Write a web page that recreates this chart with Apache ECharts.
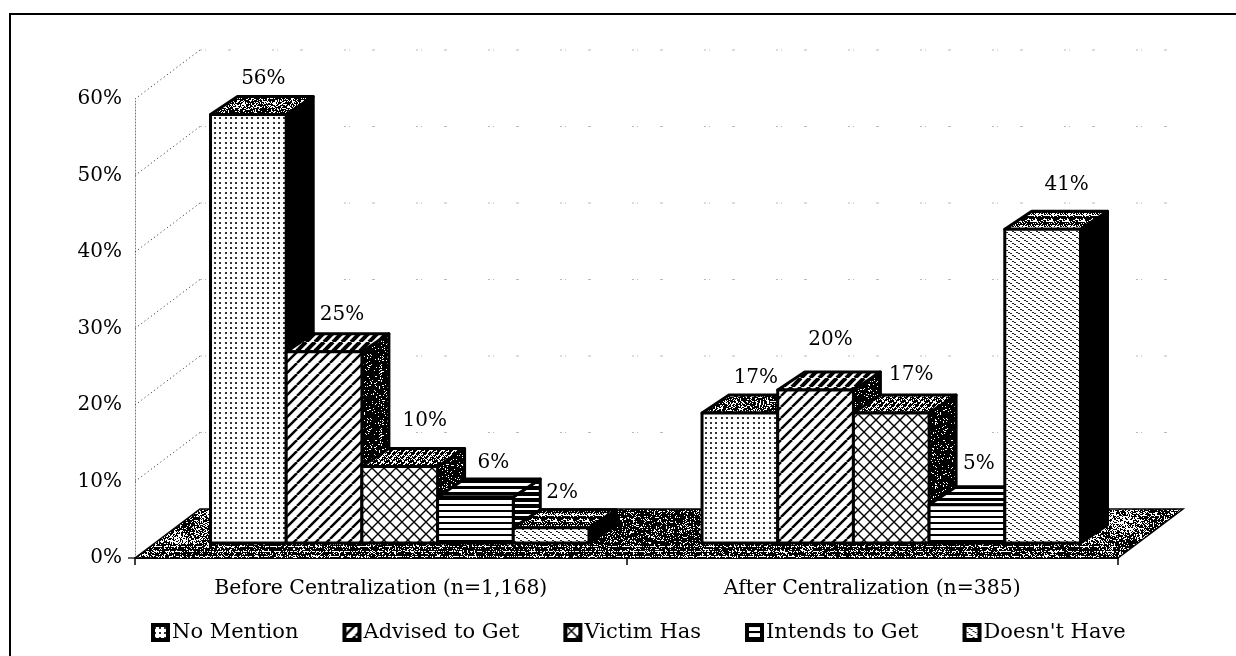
<!DOCTYPE html>
<html>
<head>
<meta charset="utf-8">
<title>Before and after centralization</title>
<script src="https://cdn.jsdelivr.net/npm/echarts@6/dist/echarts.min.js"></script>
<style>
	html, body { margin: 0; padding: 0; background: #fff; }
	#chart { width: 1236px; height: 656px; }
</style>
</head>
<body>
<div id="chart"></div>
<script>
// Chart values
const categories = ['Before Centralization (n=1,168)', 'After Centralization (n=385)']
const seriesNames = ['No Mention', 'Advised to Get', 'Victim Has', 'Intends to Get', "Doesn't Have"]
const noMention = [56, 17]
const advisedToGet = [25, 20]
const victimHas = [10, 17]
const intendsToGet = [6, 5]
const doesntHave = [2, 41]
const valueTicks = [0, 10, 20, 30, 40, 50, 60]
const seriesValues = [noMention, advisedToGet, victimHas, intendsToGet, doesntHave]

// Fake 3D layout
const FONT = '"DejaVu Serif", serif'
const FONT_SIZE = 20
const CATEGORY_FONT_SIZE = 20.4
const LEGEND_FONT_SIZE = 21
const FLOOR_DX = 65
const FLOOR_DY = 49
const FRONT_DX = 19
const FRONT_DY = 15
const BAR_DX = 27
const BAR_DY = 18
const BAR_BAND_SHARE = 0.154
// hand placement of the value labels, per legend entry then per group
const labelNudgeX = [[15, 16], [18, 15], [25, 20], [18, 12], [11, 24]]
const labelNudgeY = [[-18, -17], [-19, -32], [-28, -20], [-16, -23], [-17, -27]]

const makeTile = (w, h, draw) => {
	const c = document.createElement('canvas')
	c.width = w
	c.height = h
	const ctx = c.getContext('2d')
	ctx.fillStyle = '#fff'
	ctx.fillRect(0, 0, w, h)
	ctx.fillStyle = '#000'
	ctx.strokeStyle = '#000'
	draw(ctx, w, h)
	return { image: c, repeat: 'repeat' }
}

// fixed pseudo noise for the scanned halftone look, same picture on every load
const speck = (x, y) => {
	const s = Math.sin(x * 12.9898 + y * 78.233) * 43758.5453
	return s - Math.floor(s)
}

const noiseTile = (w, h, darkness) => makeTile(w, h, (ctx) => {
	for (let y = 0; y < h; y += 1) {
		for (let x = 0; x < w; x += 1) {
			if (speck(x, y) < darkness(x, y)) ctx.fillRect(x, y, 1, 1)
		}
	}
})

const dotTile = makeTile(16, 5, (ctx) => {
	ctx.fillStyle = '#333'
	ctx.fillRect(1, 2, 2, 2)
	ctx.fillRect(6, 2, 2, 2)
	ctx.fillRect(11, 2, 2, 2)
})

const diagonalTile = (size, width) => makeTile(size, size, (ctx) => {
	ctx.lineWidth = width
	for (let i = -size; i <= size; i += size) {
		ctx.beginPath()
		ctx.moveTo(i, size)
		ctx.lineTo(i + size, 0)
		ctx.stroke()
	}
})

const latticeTile = makeTile(12, 12, (ctx) => {
	ctx.lineWidth = 1.4
	for (let i = -12; i <= 12; i += 12) {
		ctx.beginPath()
		ctx.moveTo(i, 12)
		ctx.lineTo(i + 12, 0)
		ctx.moveTo(i, 0)
		ctx.lineTo(i + 12, 12)
		ctx.stroke()
	}
})

const stripeTile = (period, black) => makeTile(4, period, (ctx, w) => ctx.fillRect(0, 0, w, black))

const waveTile = makeTile(8, 6, (ctx) => {
	ctx.fillStyle = '#222'
	ctx.fillRect(0, 0, 2, 1)
	ctx.fillRect(2, 1, 2, 1)
	ctx.fillRect(4, 3, 2, 1)
	ctx.fillRect(6, 4, 2, 1)
})

const topNoise = noiseTile(64, 32, () => 0.66)
const darkFlecks = noiseTile(64, 64, () => 0.9)
const floorDarkness = (x, y) => {
	if (x > 590 && x < 700) return 0.82
	return 0.58 + 0.24 * Math.sin(x / 13) * Math.sin(y / 7)
}
const floorFill = noiseTile(1236, 64, floorDarkness)
const frontBand = noiseTile(1236, 16, (x, y) => (y % 5 === 2 ? 0.4 : 0.84))

const frontFills = [dotTile, diagonalTile(11, 2.5), latticeTile, stripeTile(6, 2), waveTile]
const topFills = [topNoise, diagonalTile(9, 4), noiseTile(12, 12, (x, y) => ((x + y) % 6 < 3 ? 0.9 : 0.4)), stripeTile(6, 3), noiseTile(16, 12, (x, y) => (y % 6 < 3 ? 0.85 : 0.45))]
const sideFills = ['#000', darkFlecks, darkFlecks, stripeTile(6, 4), '#000']

const face = (points, fill) => ({
	type: 'polygon',
	shape: { points: points },
	style: { fill: fill, stroke: '#000', lineWidth: 3, lineJoin: 'round' }
})

const renderBar = (seriesIdx) => (params, api) => {
	const cat = api.value(0)
	const val = api.value(1)
	const barW = api.size([1, 0])[0] * BAR_BAND_SHARE
	const base = api.coord([cat, 0])
	const top = api.coord([cat, val])
	const x0 = base[0] - 2.5 * barW + seriesIdx * barW + FRONT_DX
	const x1 = x0 + barW
	const y0 = base[1] - FRONT_DY
	const y1 = top[1] - FRONT_DY
	return {
		type: 'group',
		children: [
			face([[x1, y0], [x1 + BAR_DX, y0 - BAR_DY], [x1 + BAR_DX, y1 - BAR_DY], [x1, y1]], sideFills[seriesIdx]),
			face([[x0, y1], [x1, y1], [x1 + BAR_DX, y1 - BAR_DY], [x0 + BAR_DX, y1 - BAR_DY]], topFills[seriesIdx]),
			face([[x0, y0], [x1, y0], [x1, y1], [x0, y1]], frontFills[seriesIdx]),
			{
				type: 'text',
				style: {
					text: val + '%',
					x: (x0 + x1) / 2 + labelNudgeX[seriesIdx][cat],
					y: y1 - BAR_DY + labelNudgeY[seriesIdx][cat],
					align: 'center',
					verticalAlign: 'middle',
					fontFamily: FONT,
					fontSize: FONT_SIZE,
					fill: '#000'
				}
			}
		]
	}
}

// left wall, back wall and floor hang off the grid rect
const renderWalls = (params, api) => {
	const tick = api.value(0)
	const grid = params.coordSys
	const left = grid.x
	const right = grid.x + grid.width
	const bottom = grid.y + grid.height
	const y = api.coord([0, tick])[1]
	const children = []
	if (tick > 0) {
		children.push({
			type: 'line',
			shape: { x1: left, y1: y, x2: left + FLOOR_DX, y2: y - FLOOR_DY },
			style: { stroke: '#222', lineWidth: 1, lineDash: [1, 3] }
		}, {
			type: 'line',
			shape: { x1: left + FLOOR_DX, y1: y - FLOOR_DY, x2: right + FLOOR_DX, y2: y - FLOOR_DY },
			style: { stroke: '#bbb', lineWidth: 1, lineDash: [2, 3, 1, 22, 3, 41] }
		})
	} else {
		children.push({
			type: 'polygon',
			shape: { points: [[left, bottom], [left + FLOOR_DX, bottom - FLOOR_DY], [right + FLOOR_DX, bottom - FLOOR_DY], [right, bottom]] },
			style: { fill: floorFill, stroke: '#000', lineWidth: 1.5 }
		}, {
			type: 'rect',
			shape: { x: left + FRONT_DX, y: bottom - FRONT_DY + 1, width: right - left - FRONT_DX, height: FRONT_DY - 1 },
			style: { fill: frontBand }
		}, {
			type: 'line',
			shape: { x1: left - 7, y1: bottom, x2: left, y2: bottom },
			style: { stroke: '#333', lineWidth: 1.5 }
		})
	}
	return { type: 'group', children: children }
}

const chart = echarts.init(document.getElementById('chart'))

const barSeries = seriesNames.map((name, i) => ({
	name: name,
	type: 'custom',
	renderItem: renderBar(i),
	data: seriesValues[i].map((v, c) => [c, v]),
	encode: { x: 0, y: 1 },
	itemStyle: { color: frontFills[i], borderColor: '#000', borderWidth: 4 },
	z: 3 + i,
	silent: true,
	animation: false
}))

chart.setOption({
	animation: false,
	textStyle: { fontFamily: FONT },
	grid: { left: 135, right: 118, top: 99, height: 459, containLabel: false },
	legend: {
		data: seriesNames,
		left: 146,
		top: 617,
		icon: 'rect',
		itemWidth: 15,
		itemHeight: 15,
		itemGap: 44,
		selectedMode: false,
		itemStyle: { borderColor: '#000', borderWidth: 4 },
		textStyle: { fontFamily: FONT, fontSize: LEGEND_FONT_SIZE, color: '#000', padding: [0, 0, 0, -1] }
	},
	xAxis: {
		type: 'category',
		data: categories,
		axisLine: { lineStyle: { color: '#000', width: 2 } },
		axisTick: { show: true, length: 7, lineStyle: { color: '#000', width: 1.5 } },
		axisLabel: { color: '#000', fontFamily: FONT, fontSize: CATEGORY_FONT_SIZE, margin: 21 },
		splitLine: { show: false }
	},
	yAxis: {
		type: 'value',
		min: 0,
		max: 60,
		interval: 10,
		axisLine: { show: true, lineStyle: { color: '#777', type: [1, 2], width: 1 } },
		axisTick: { show: false },
		axisLabel: { color: '#000', fontFamily: FONT, fontSize: FONT_SIZE, margin: 13, formatter: '{value}%' },
		splitLine: { show: false }
	},
	graphic: [{
		type: 'polyline',
		shape: { points: [[10, 656], [10, 14], [1236, 14]] },
		style: { fill: null, stroke: '#000', lineWidth: 2 },
		silent: true
	}],
	series: [{
		name: 'Walls',
		type: 'custom',
		renderItem: renderWalls,
		data: valueTicks.map((t) => [t]),
		encode: { y: 0 },
		z: 1,
		silent: true
	}].concat(barSeries)
})
</script>
</body>
</html>
